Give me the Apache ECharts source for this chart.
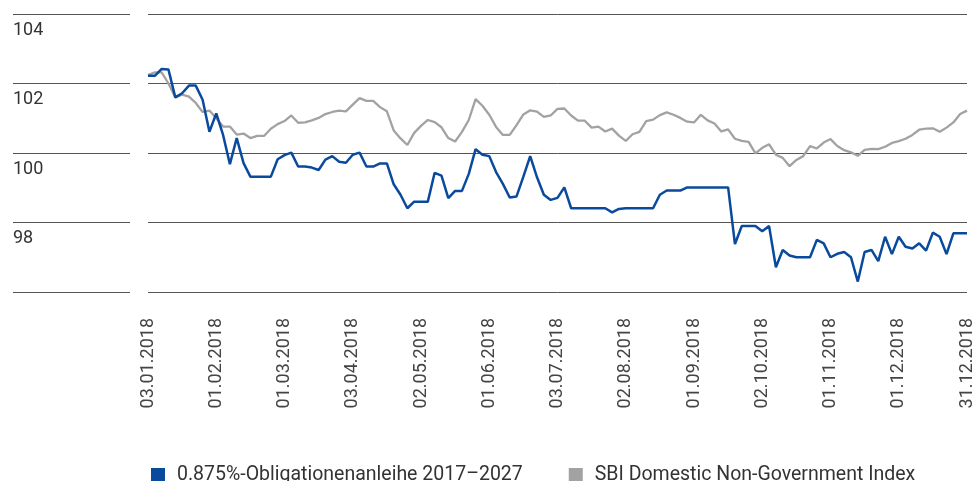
<!DOCTYPE html>
<html>
<head>
<meta charset="utf-8">
<script src="https://cdn.jsdelivr.net/npm/echarts@6/dist/echarts.min.js"></script>
<style>
  html, body { margin: 0; padding: 0; background: #fff; }
  #myChart { width: 976px; height: 481px; }
</style>
</head>
<body>
<div id="myChart"></div>
<script>
// tick labels on the date axis, one every 10 points
const tickLabels = ['03.01.2018', '01.02.2018', '01.03.2018', '03.04.2018', '02.05.2018', '01.06.2018',
  '03.07.2018', '02.08.2018', '01.09.2018', '02.10.2018', '01.11.2018', '01.12.2018', '31.12.2018'];

const seriesNames = ['0.875%-Obligationenanleihe 2017–2027', 'SBI Domestic Non-Government Index'];

// 0.875% bond
const bondValues = [
  102.22, 102.22, 102.42, 102.40, 101.60, 101.72, 101.94, 101.94, 101.53, 100.61,
  101.14, 100.52, 99.68, 100.43, 99.71, 99.32, 99.32, 99.32, 99.32, 99.82,
  99.94, 100.01, 99.61, 99.61, 99.58, 99.51, 99.81, 99.91, 99.75, 99.72,
  99.95, 100.01, 99.61, 99.61, 99.70, 99.70, 99.10, 98.80, 98.41, 98.60,
  98.60, 98.60, 99.43, 99.35, 98.70, 98.91, 98.91, 99.40, 100.11, 99.95,
  99.91, 99.45, 99.11, 98.72, 98.75, 99.32, 99.91, 99.30, 98.80, 98.65,
  98.71, 99.01, 98.41, 98.41, 98.41, 98.41, 98.41, 98.41, 98.29, 98.39,
  98.41, 98.41, 98.41, 98.41, 98.41, 98.80, 98.92, 98.92, 98.92, 99.01,
  99.01, 99.01, 99.01, 99.01, 99.01, 99.01, 97.38, 97.90, 97.90, 97.90,
  97.75, 97.90, 96.71, 97.21, 97.05, 97.00, 97.00, 97.00, 97.50, 97.40,
  97.00, 97.10, 97.15, 97.00, 96.30, 97.15, 97.21, 96.89, 97.59, 97.09,
  97.59, 97.30, 97.25, 97.40, 97.19, 97.71, 97.59, 97.09, 97.69, 97.69,
  97.69
];

// SBI Domestic Non-Government Index
const indexValues = [
  102.24, 102.32, 102.32, 102.00, 101.60, 101.68, 101.62, 101.44, 101.18, 101.22,
  101.00, 100.76, 100.76, 100.53, 100.56, 100.43, 100.49, 100.49, 100.70, 100.83,
  100.92, 101.08, 100.87, 100.88, 100.94, 101.01, 101.12, 101.18, 101.22, 101.20,
  101.39, 101.58, 101.50, 101.50, 101.32, 101.20, 100.65, 100.42, 100.23, 100.58,
  100.78, 100.95, 100.89, 100.74, 100.43, 100.33, 100.61, 100.95, 101.55, 101.36,
  101.10, 100.75, 100.52, 100.52, 100.80, 101.11, 101.23, 101.19, 101.04, 101.08,
  101.27, 101.28, 101.08, 100.93, 100.93, 100.73, 100.76, 100.62, 100.70, 100.50,
  100.35, 100.54, 100.61, 100.92, 100.96, 101.09, 101.17, 101.10, 101.01, 100.90,
  100.88, 101.10, 100.94, 100.85, 100.62, 100.68, 100.41, 100.35, 100.32, 99.99,
  100.15, 100.25, 99.95, 99.86, 99.62, 99.80, 99.91, 100.20, 100.13, 100.30,
  100.40, 100.20, 100.08, 100.02, 99.92, 100.09, 100.12, 100.11, 100.18, 100.29,
  100.34, 100.41, 100.52, 100.67, 100.70, 100.71, 100.61, 100.73, 100.88, 101.12,
  101.22
];

const categories = bondValues.map((v, i) => String(i));

const textColor = '#333';
const gridColor = '#555';

let thisChart = echarts.init(document.getElementById('myChart'));
const option = {
  animation: false,
  grid: [
    // plot area
    { left: 148, right: 7, top: 14, bottom: 189 },
    // short gridline segments with the value labels
    { left: 13, right: 846, top: 14, bottom: 189 }
  ],
  legend: {
    data: seriesNames,
    left: 146,
    top: 460,
    icon: 'rect',
    itemWidth: 14,
    itemHeight: 14,
    itemGap: 46,
    textStyle: {
      fontFamily: 'Roboto',
      fontSize: 19.5,
      color: textColor,
      padding: [0, 0, 0, 7]
    }
  },
  xAxis: [
    {
      type: 'category',
      gridIndex: 0,
      data: categories,
      boundaryGap: false,
      axisLine: { show: false },
      axisTick: { show: false },
      axisLabel: {
        interval: 9,
        rotate: 90,
        margin: 26,
        fontFamily: 'Roboto',
        fontSize: 18,
        color: '#444',
        formatter: function (val, idx) {
          return idx % 10 === 0 ? tickLabels[idx / 10] : '';
        }
      }
    },
    {
      type: 'value',
      gridIndex: 1,
      show: false
    }
  ],
  yAxis: [
    {
      type: 'value',
      gridIndex: 0,
      min: 96,
      max: 104,
      interval: 2,
      axisLine: { show: false },
      axisTick: { show: false },
      axisLabel: { show: false },
      splitLine: { lineStyle: { color: gridColor, width: 1 } }
    },
    {
      type: 'value',
      gridIndex: 1,
      min: 96,
      max: 104,
      interval: 2,
      axisLine: { show: false },
      axisTick: { show: false },
      axisLabel: {
        inside: true,
        margin: 0,
        align: 'left',
        verticalAlign: 'top',
        padding: [7, 0, 0, 0],
        fontFamily: 'Roboto',
        fontSize: 18,
        color: textColor,
        formatter: function (v) {
          return v === 96 ? '' : String(v);
        }
      },
      splitLine: { lineStyle: { color: gridColor, width: 1 } }
    }
  ],
  series: [
    {
      name: seriesNames[1],
      type: 'line',
      xAxisIndex: 0,
      yAxisIndex: 0,
      data: indexValues,
      showSymbol: false,
      color: '#a2a2a2',
      lineStyle: { width: 2.3, color: '#a2a2a2' },
      z: 2
    },
    {
      name: seriesNames[0],
      type: 'line',
      xAxisIndex: 0,
      yAxisIndex: 0,
      data: bondValues,
      showSymbol: false,
      color: '#0a4a9c',
      lineStyle: { width: 2.5, color: '#0a4a9c' },
      z: 3
    }
  ]
};
thisChart.setOption(option);
</script>
</body>
</html>
